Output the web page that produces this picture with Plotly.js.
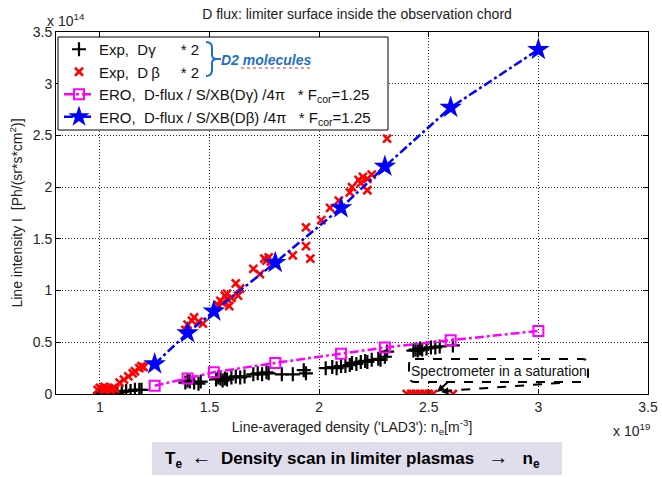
<!DOCTYPE html>
<html>
<head>
<meta charset="utf-8">
<script src="https://cdn.plot.ly/plotly-3.0.1.min.js"></script>
<style>html,body{margin:0;padding:0;background:#fff;}#chart{width:662px;height:477px;}</style>
</head>
<body>
<div id="chart"></div>
<script>
// ---- data (x in 1e19 m^-3, y in 1e14 Ph/(sr s cm^2)) ----
const expDgX = [1.00,1.01,1.02,1.03,1.04,1.05,1.06,1.07,1.08,1.10,1.12,1.14,1.16,1.18,1.19,
  1.39,1.40,1.41,1.43,1.45,1.46,
  1.53,1.54,1.55,1.56,1.57,1.58,1.60,1.62,1.64,1.66,1.70,1.72,1.74,1.76,1.77,1.83,1.88,1.93,1.94,
  2.03,2.06,2.08,2.10,2.12,2.14,2.15,2.17,2.19,2.21,2.22,2.24,2.27,2.28,2.30,2.31,
  2.43,2.44,2.45,2.46,2.47,2.49,2.51,2.53,2.55,2.61];
const expDgY = [0.01,0.01,0.00,0.01,0.02,0.01,0.00,0.02,0.01,0.02,0.03,0.03,0.04,0.04,0.04,
  0.11,0.13,0.12,0.11,0.10,0.12,
  0.14,0.16,0.15,0.13,0.15,0.14,0.16,0.17,0.16,0.17,0.19,0.20,0.19,0.21,0.20,0.19,0.19,0.23,0.20,
  0.25,0.26,0.25,0.27,0.27,0.28,0.30,0.29,0.31,0.32,0.31,0.33,0.34,0.33,0.36,0.41,
  0.42,0.43,0.42,0.44,0.43,0.44,0.45,0.45,0.46,0.47];

const expDbX = [0.99,1.00,1.01,1.02,1.02,1.03,1.04,1.05,1.06,1.07,
  1.09,1.11,1.13,1.15,1.16,1.18,1.19,1.20,
  1.39,1.40,1.42,1.43,1.45,1.47,
  1.54,1.55,1.56,1.57,1.58,1.59,1.58,1.60,1.62,1.64,1.63,
  1.70,1.73,1.75,1.76,1.77,1.78,
  1.88,1.94,1.94,1.96,
  2.01,2.05,2.09,2.14,2.15,2.18,2.20,2.22,2.22,2.24,2.19,2.29,2.31,
  2.40,2.42,2.44,2.46,2.48,2.50,2.52,2.61];
const expDbY = [0.04,0.06,0.05,0.04,0.07,0.05,0.06,0.04,0.06,0.05,
  0.11,0.14,0.17,0.20,0.22,0.25,0.27,0.26,
  0.62,0.67,0.71,0.74,0.70,0.68,
  0.86,0.90,0.88,0.95,0.92,0.85,0.97,0.93,1.07,1.02,0.95,
  1.21,1.16,1.31,1.29,1.32,1.28,
  1.34,1.61,1.43,1.31,
  1.68,1.80,1.87,1.95,2.00,2.07,2.10,2.08,1.97,2.12,2.04,2.19,2.47,
  0,0,0,0,0,0,0,0];

const eroX   = [1.25,1.40,1.52,1.80,2.10,2.30,2.60,3.00];
const eroDgY = [0.08,0.15,0.21,0.30,0.39,0.45,0.52,0.61];
const eroDbY = [0.29,0.59,0.80,1.27,1.80,2.20,2.77,3.33];

const xTicks = [1,1.5,2,2.5,3,3.5];
const yTicks = [0,0.5,1,1.5,2,2.5,3,3.5];

const names = [
  'Exp,\u00a0\u00a0D\u03b3\u00a0\u00a0\u00a0\u00a0\u00a0\u00a0* 2',
  'Exp,\u00a0\u00a0D\u2009\u03b2\u00a0\u00a0\u00a0\u00a0\u00a0* 2',
  'ERO,\u00a0\u00a0D-flux / S/XB(D\u03b3) /4\u03c0\u00a0\u00a0\u00a0* F<sub>cor</sub>=1.25',
  'ERO,\u00a0\u00a0D-flux / S/XB(D\u03b2) /4\u03c0\u00a0\u00a0\u00a0* F<sub>cor</sub>=1.25'
];

// ---- layout helpers (pixel -> paper) ----
const ML = 56, MR = 14, MT = 32, MB = 83, W = 662, H = 477;
const PW = W - ML - MR, PH = H - MT - MB;
const px = x => (x - ML) / PW;
const py = y => (H - MB - y) / PH;
function rrect(x0, y0, x1, y1, r) {
  return `M${px(x0+r)},${py(y0)} L${px(x1-r)},${py(y0)} Q${px(x1)},${py(y0)} ${px(x1)},${py(y0+r)} ` +
         `L${px(x1)},${py(y1-r)} Q${px(x1)},${py(y1)} ${px(x1-r)},${py(y1)} ` +
         `L${px(x0+r)},${py(y1)} Q${px(x0)},${py(y1)} ${px(x0)},${py(y1-r)} ` +
         `L${px(x0)},${py(y0+r)} Q${px(x0)},${py(y0)} ${px(x0+r)},${py(y0)} Z`;
}
const brace = `M${px(206)},${py(42)} Q${px(212)},${py(42)} ${px(212)},${py(48)} L${px(212)},${py(55)} ` +
  `Q${px(212)},${py(59)} ${px(217)},${py(59)} Q${px(212)},${py(59)} ${px(212)},${py(63)} ` +
  `L${px(212)},${py(70)} Q${px(212)},${py(76)} ${px(206)},${py(76)} M${px(217)},${py(59)} L${px(221)},${py(59)}`;

const FONT = 'Arial, "Liberation Sans", sans-serif';

const traces = [
  {x: expDgX, y: expDgY, name: names[0], type: 'scatter', mode: 'markers',
   marker: {symbol: 'cross-thin', size: 10, color: '#000', line: {color: '#000', width: 2.2}}},
  {x: expDbX, y: expDbY, name: names[1], type: 'scatter', mode: 'markers',
   marker: {symbol: 'x-thin', size: 8, color: '#ff0000', line: {color: '#ff0000', width: 2.5}}},
  {x: eroX, y: eroDgY, name: names[2], type: 'scatter', mode: 'lines+markers',
   line: {color: '#ff00ff', width: 2.5, dash: 'dashdot'},
   marker: {symbol: 'square-open', size: 10, color: '#ff00ff', line: {color: '#ff00ff', width: 2}}},
  {x: eroX, y: eroDbY, name: names[3], type: 'scatter', mode: 'lines+markers',
   line: {color: '#0000ff', width: 2.5, dash: 'dashdot'},
   marker: {symbol: 'star', size: 17, color: '#0000ff', line: {width: 0}}}
];

const axisCommon = {
  showline: true, linecolor: '#000', linewidth: 1, mirror: 'ticks',
  ticks: 'inside', ticklen: 5, tickcolor: '#000', tickwidth: 1,
  showgrid: true, gridcolor: '#222', griddash: '1px,2px', gridwidth: 1,
  zeroline: false, tickfont: {family: FONT, size: 14, color: '#262626'}
};

const layout = {
  width: W, height: H,
  margin: {l: ML, r: MR, t: MT, b: MB},
  paper_bgcolor: '#fff', plot_bgcolor: '#fff',
  font: {family: FONT, size: 14, color: '#222'},
  title: {text: 'D flux: limiter surface inside the observation chord',
          font: {family: FONT, size: 14, color: '#222'},
          x: 357 / W, xanchor: 'center', xref: 'container', y: 1 - 14 / H, yanchor: 'middle', yref: 'container'},
  xaxis: Object.assign({}, axisCommon, {
    range: [0.8, 3.5], tickmode: 'array', tickvals: xTicks, ticktext: xTicks.map(String),
    title: {text: "Line-averaged density ('LAD3'): n<sub>e</sub>[m<sup>-3</sup>]",
            font: {family: FONT, size: 14, color: '#222'}, standoff: 8}
  }),
  yaxis: Object.assign({}, axisCommon, {
    range: [0, 3.5], tickmode: 'array', tickvals: yTicks, ticktext: yTicks.map(String),
    title: {text: 'Line intensity I\u00a0\u00a0[Ph/(sr*s*cm<sup>2</sup>)]',
            font: {family: FONT, size: 14, color: '#222'}, standoff: 6}
  }),
  showlegend: true,
  legend: {x: px(59), y: py(33), xanchor: 'left', yanchor: 'top', xref: 'paper', yref: 'paper',
           bgcolor: 'rgba(0,0,0,0)', borderwidth: 0, tracegroupgap: 0,
           font: {family: FONT, size: 15, color: '#111'}},
  shapes: [
    {type: 'rect', xref: 'paper', yref: 'paper', x0: px(58), x1: px(388), y0: py(130), y1: py(37),
     fillcolor: '#fff', line: {color: '#000', width: 1}, layer: 'above'},
    {type: 'path', xref: 'paper', yref: 'paper', path: brace, line: {color: '#1f6fc5', width: 2}, layer: 'above'},
    {type: 'line', xref: 'paper', yref: 'paper', x0: px(241), x1: px(310), y0: py(68), y1: py(68),
     line: {color: '#e03030', width: 1, dash: 'dot'}, layer: 'above'},
    {type: 'path', xref: 'paper', yref: 'paper', path: rrect(409, 359, 588, 382, 6),
     fillcolor: '#fff', line: {color: '#000', width: 2, dash: 'dash'}, layer: 'above'},
    {type: 'line', xref: 'paper', yref: 'paper', x0: px(448), y0: py(382), x1: px(439), y1: py(390),
     line: {color: '#000', width: 2, dash: 'dash'}, layer: 'above'},
    {type: 'line', xref: 'paper', yref: 'paper', x0: px(560), y0: py(383), x1: px(444), y1: py(391),
     line: {color: '#000', width: 2, dash: 'dash'}, layer: 'above'},
    {type: 'rect', xref: 'paper', yref: 'paper', x0: px(152), x1: px(562), y0: py(475), y1: py(442),
     fillcolor: '#e0deec', line: {width: 0}, layer: 'above'}
  ],
  annotations: [
    {xref: 'paper', yref: 'paper', x: px(219), y: py(60), xanchor: 'left', yanchor: 'middle', showarrow: false,
     text: '<b><i>D2 molecules</i></b>', font: {family: FONT, size: 14, color: '#1f6fc5'}},
    {xref: 'paper', yref: 'paper', x: px(45), y: py(20), xanchor: 'left', yanchor: 'middle', showarrow: false,
     text: 'x 10<sup>14</sup>', font: {family: FONT, size: 14, color: '#262626'}},
    {xref: 'paper', yref: 'paper', x: px(652), y: py(430), xanchor: 'right', yanchor: 'middle', showarrow: false,
     text: 'x 10<sup>19</sup>', font: {family: FONT, size: 14, color: '#262626'}},
    {xref: 'paper', yref: 'paper', x: px(499), y: py(371), xanchor: 'center', yanchor: 'middle', showarrow: false,
     text: 'Spectrometer in a saturation', font: {family: FONT, size: 14, color: '#111'}},
    {xref: 'paper', yref: 'paper', x: px(437), y: py(392), ax: 6, ay: -5, showarrow: true, text: '',
     arrowhead: 2, arrowsize: 1, arrowwidth: 1.5, arrowcolor: '#000'},
    {xref: 'paper', yref: 'paper', x: px(441), y: py(392), ax: 8, ay: -1, showarrow: true, text: '',
     arrowhead: 2, arrowsize: 1, arrowwidth: 1.5, arrowcolor: '#000'},
    {xref: 'paper', yref: 'paper', x: px(352), y: py(458), xanchor: 'center', yanchor: 'middle', showarrow: false,
     text: '<b>T<sub>e</sub>\u00a0\u00a0<span style="font-size:20px">\u2190</span>\u00a0\u00a0Density scan in limiter plasmas\u00a0\u00a0\u00a0<span style="font-size:20px">\u2192</span>\u00a0\u00a0\u00a0n<sub>e</sub></b>',
     font: {family: FONT, size: 17, color: '#000'}}
  ]
};

Plotly.newPlot('chart', traces, layout, {displayModeBar: false, staticPlot: true});
</script>
</body>
</html>
